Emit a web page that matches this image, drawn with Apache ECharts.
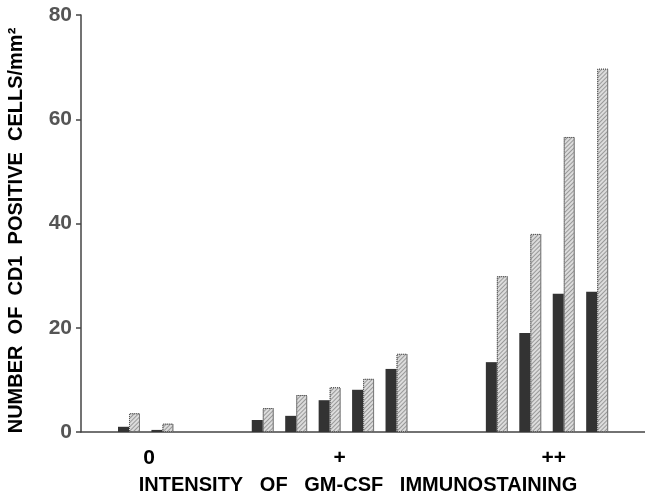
<!DOCTYPE html>
<html>
<head>
<meta charset="utf-8">
<script src="https://cdn.jsdelivr.net/npm/echarts@6/dist/echarts.min.js"></script>
<style>html,body{margin:0;padding:0;background:#fff}#c{width:645px;height:497px}</style>
</head>
<body>
<div id="c"></div>
<script>
// Bar slot positions (pair index along x), grouped by staining intensity
const slots = [0, 1, 4, 5, 6, 7, 8, 11, 12, 13, 14];
const darkValues = [1.0, 0.4, 2.3, 3.1, 6.1, 8.1, 12.1, 13.4, 19.0, 26.5, 26.9];
const hatchedValues = [3.6, 1.6, 4.6, 7.1, 8.6, 10.2, 15.0, 29.9, 38.0, 56.6, 69.7];
const groupLabels = ['0', '+', '++'];
const groupLabelPos = [0.6, 6.3, 12.7];
const yTicks = [0, 20, 40, 60, 80];

const font = '"Liberation Sans", Arial, Helvetica, sans-serif';
const chart = echarts.init(document.getElementById('c'));
chart.setOption({
  animation: false,
  backgroundColor: '#fff',
  grid: { left: 81, right: 0, top: 15, bottom: 65, outerBoundsMode: 'none', containLabel: false },
  xAxis: {
    type: 'value',
    min: -1.435,
    max: 15.43,
    splitLine: { show: false },
    axisLine: { show: true, onZero: false, lineStyle: { color: '#444', width: 1.5 } },
    axisTick: { show: false },
    axisLabel: {
      customValues: groupLabelPos,
      formatter: v => groupLabels[groupLabelPos.findIndex(p => Math.abs(p - v) < 1e-6)] || '',
      color: '#000', fontSize: 21, fontWeight: 'bold', fontFamily: font, margin: 16
    },
    name: 'INTENSITY   OF   GM-CSF   IMMUNOSTAINING',
    nameLocation: 'middle',
    nameGap: 43,
    nameTextStyle: { color: '#000', fontSize: 20, fontWeight: 'bold', fontFamily: font, padding: [0, 10, 0, 0] }
  },
  yAxis: {
    type: 'value',
    min: 0, max: 80, interval: 20,
    splitLine: { show: false },
    axisLine: { show: true, onZero: false, lineStyle: { color: '#444', width: 1.5 } },
    axisTick: { show: true, length: 5, lineStyle: { color: '#444', width: 1.5 } },
    axisLabel: {
      formatter: v => yTicks.includes(v) ? String(v) : '',
      color: '#555', fontSize: 21, fontWeight: 'bold', fontFamily: font, margin: 9
    },
    name: 'NUMBER  OF  CD1  POSITIVE  CELLS/mm²',
    nameLocation: 'middle',
    nameGap: 55,
    nameTextStyle: { color: '#000', fontSize: 20, fontWeight: 'bold', fontFamily: font, padding: [0, 14, 0, 0] }
  },
  series: [
    {
      type: 'bar',
      name: 'dark',
      data: slots.map((s, i) => [s, darkValues[i]]),
      barWidth: 11,
      barGap: '0%',
      itemStyle: { color: '#333' }
    },
    {
      type: 'bar',
      name: 'hatched',
      data: slots.map((s, i) => [s, hatchedValues[i]]),
      barWidth: 11,
      barGap: '0%',
      itemStyle: {
        color: '#dcdcdc',
        borderColor: '#555',
        borderWidth: 1,
        borderType: 'dotted',
        decal: {
          symbol: 'rect',
          symbolSize: 1,
          dashArrayX: [1, 0],
          dashArrayY: [1, 2],
          rotation: -Math.PI / 4,
          color: '#999'
        }
      }
    }
  ]
});
</script>
</body>
</html>
